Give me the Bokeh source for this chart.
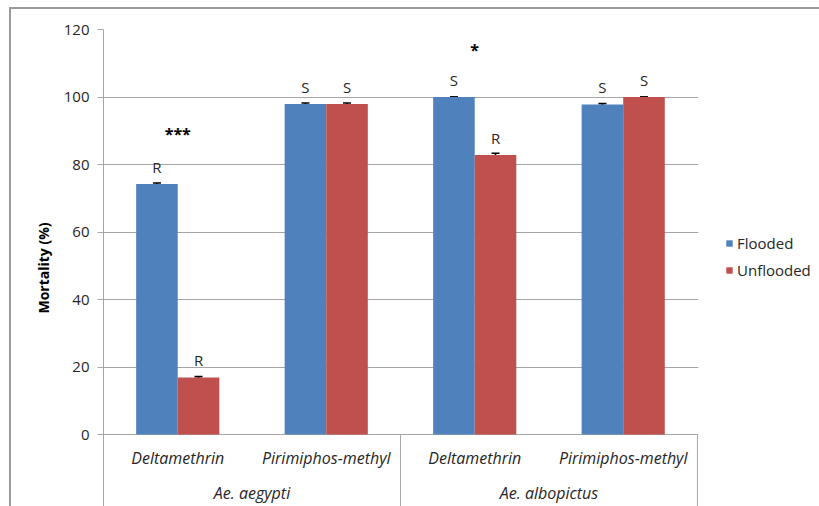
from bokeh.plotting import figure
from bokeh.models import Range1d, FixedTicker, ColumnDataSource, Legend, LegendItem, Whisker, TeeHead
from bokeh.core.properties import value
from bokeh.embed import file_html
from bokeh.resources import INLINE

# ---- data ----
species = ["Ae. aegypti", "Ae. albopictus"]
insecticides = ["Deltamethrin", "Pirimiphos-methyl", "Deltamethrin", "Pirimiphos-methyl"]
flooded = [74.2, 97.9, 100.0, 97.8]
unflooded = [16.9, 97.9, 82.8, 100.0]
flooded_err = [0.3, 0.3, 0.0, 0.3]
unflooded_err = [0.3, 0.3, 0.5, 0.0]
flooded_status = ["R", "S", "S", "S"]
unflooded_status = ["R", "S", "R", "S"]
signif_labels = ["***", "*"]
signif_cat = [0, 2]
signif_y = [89, 114]
y_ticks = [0, 20, 40, 60, 80, 100, 120]

BLUE = "#4F81BD"
RED = "#C0504D"
FONT = "Open Sans"
TXT = "#262626"

n = len(insecticides)
centers = [i + 0.5 for i in range(n)]
off = 0.14
bw = 0.28
y0 = -21.33

p = figure(output_backend="svg", toolbar_location=None,
           frame_width=595, frame_height=477,
           min_border_left=92, min_border_right=120, min_border_top=20, min_border_bottom=0,
           x_range=Range1d(0, 4.007), y_range=Range1d(y0, 120),
           x_axis_location=None, outline_line_color=None)

p.styles = {"border-top": "2px solid #9a9a9a", "border-left": "2px solid #9a9a9a",
            "margin-top": "7px", "margin-left": "9px"}

# grid
p.xgrid.visible = False
p.ygrid.ticker = FixedTicker(ticks=y_ticks)
p.ygrid.grid_line_color = "#a6a6a6"
p.ygrid.grid_line_width = 1

# y axis
ax = p.yaxis[0]
ax.ticker = FixedTicker(ticks=y_ticks)
ax.axis_line_color = "#a6a6a6"
ax.major_tick_line_color = "#a6a6a6"
ax.major_tick_out = 6
ax.major_tick_in = 0
ax.minor_tick_line_color = None
ax.major_label_text_font = FONT
ax.major_label_text_font_size = "15px"
ax.major_label_text_color = TXT
ax.major_label_standoff = 8
ax.axis_label = "Mortality (%)"
ax.axis_label_text_font = FONT
ax.axis_label_text_font_size = "14px"
ax.axis_label_text_font_style = "bold"
ax.axis_label_text_color = "#000000"
ax.axis_label_standoff = 8

# bars
src = ColumnDataSource(dict(
    xf=[c - off for c in centers], xu=[c + off for c in centers],
    f=flooded, u=unflooded,
    f_lo=[v - e for v, e in zip(flooded, flooded_err)],
    f_hi=[v + e for v, e in zip(flooded, flooded_err)],
    u_lo=[v - e for v, e in zip(unflooded, unflooded_err)],
    u_hi=[v + e for v, e in zip(unflooded, unflooded_err)],
    fs=flooded_status, us=unflooded_status,
))
rf = p.vbar(x="xf", top="f", bottom=0, width=bw, source=src, fill_color=BLUE, line_color=None)
ru = p.vbar(x="xu", top="u", bottom=0, width=bw, source=src, fill_color=RED, line_color=None)

for lo, hi, xx in (("f_lo", "f_hi", "xf"), ("u_lo", "u_hi", "xu")):
    w = Whisker(base=xx, lower=lo, upper=hi, source=src, line_color="black", line_width=1.5,
                upper_head=TeeHead(size=8, line_color="black", line_width=1.5),
                lower_head=TeeHead(size=8, line_color="black", line_width=1.5))
    p.add_layout(w)

# status letters
p.text(x="xf", y="f", text="fs", source=src, y_offset=-17, text_align="center",
       text_baseline="middle", text_font=value(FONT), text_font_size="15px", text_color=TXT)
p.text(x="xu", y="u", text="us", source=src, y_offset=-17, text_align="center",
       text_baseline="middle", text_font=value(FONT), text_font_size="15px", text_color=TXT)

# significance stars
p.text(x=[centers[i] for i in signif_cat], y=signif_y, text=signif_labels, text_align="center",
       text_baseline="middle", text_font=value(FONT), text_font_size="16px", text_color="#000000",
       text_font_style="bold")

# category labels
p.text(x=centers, y=[-7.1] * n, text=insecticides, text_align="center", text_baseline="middle",
       text_font=value(FONT), text_font_size="16px", text_font_style="italic", text_color=TXT)
gcent = [1.0, 3.0]
p.text(x=gcent, y=[-17.2] * 2, text=species, text_align="center", text_baseline="middle",
       text_font=value(FONT), text_font_size="16px", text_font_style="italic", text_color=TXT)

# separators below the axis
p.segment(x0=[2, 4], y0=[0, 0], x1=[2, 4], y1=[y0, y0], line_color="#a6a6a6", line_width=1)

legend = Legend(items=[LegendItem(label="Flooded", renderers=[rf]),
                       LegendItem(label="Unflooded", renderers=[ru])],
                location=(27, 226), orientation="vertical",
                glyph_width=8, glyph_height=8, label_standoff=4, spacing=7,
                label_height=20, label_text_font=FONT, label_text_font_size="15px",
                label_text_color=TXT, padding=0, margin=0,
                border_line_color=None, background_fill_alpha=0)
p.add_layout(legend, "right")

open("out.html", "w").write(file_html(p, INLINE))
